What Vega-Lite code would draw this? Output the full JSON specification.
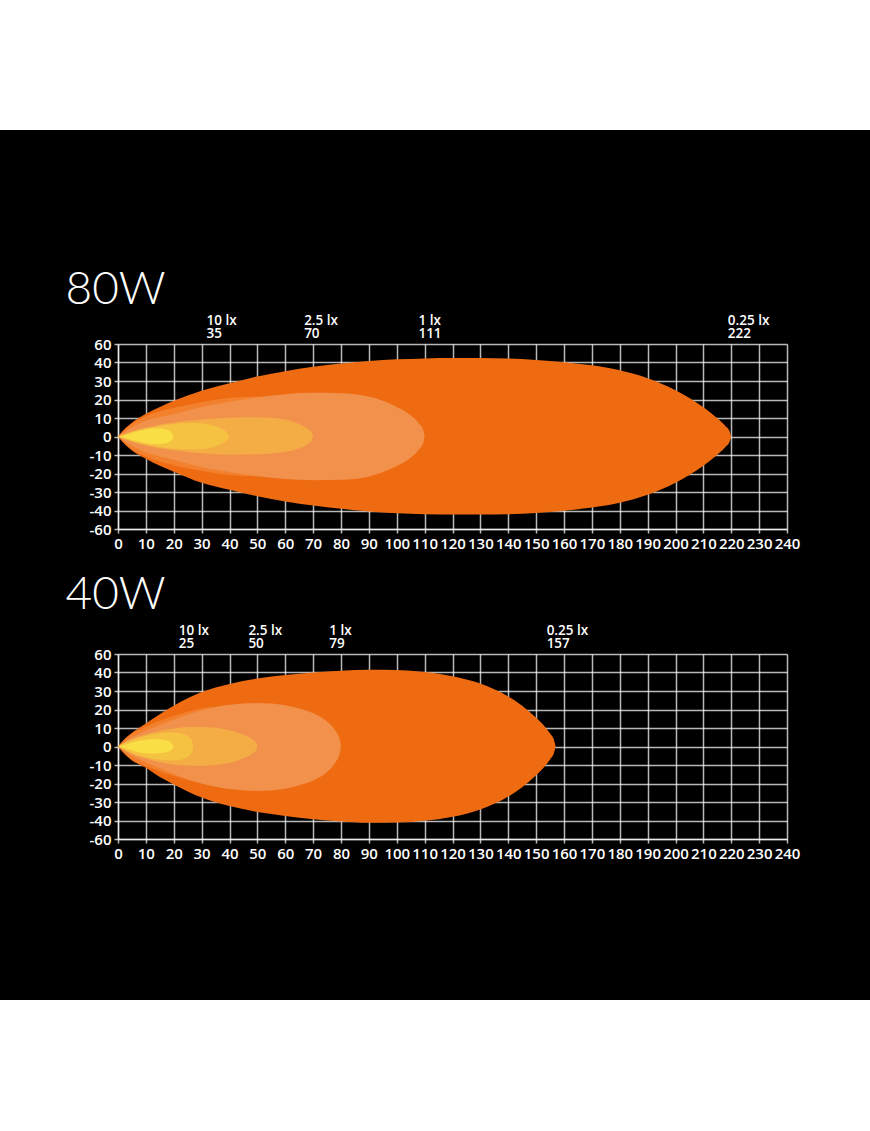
{
  "$schema": "https://vega.github.io/schema/vega-lite/v6.json",
  "background": "black",
  "padding": 0,
  "spacing": 0,
  "datasets": {
    "w80": [
      {"level": "outer", "x": 0, "hi": 0, "lo": 0},
      {"level": "outer", "x": 3, "hi": 5, "lo": -5},
      {"level": "outer", "x": 5, "hi": 7.5, "lo": -7.5},
      {"level": "outer", "x": 10, "hi": 12.3, "lo": -12},
      {"level": "outer", "x": 15, "hi": 16, "lo": -15.8},
      {"level": "outer", "x": 20, "hi": 19.3, "lo": -19},
      {"level": "outer", "x": 30, "hi": 24.7, "lo": -25},
      {"level": "outer", "x": 40, "hi": 28.8, "lo": -28.8},
      {"level": "outer", "x": 50, "hi": 32.5, "lo": -32.3},
      {"level": "outer", "x": 60, "hi": 35.3, "lo": -35.1},
      {"level": "outer", "x": 70, "hi": 37.7, "lo": -37.3},
      {"level": "outer", "x": 80, "hi": 39.4, "lo": -39.1},
      {"level": "outer", "x": 90, "hi": 40.8, "lo": -40.5},
      {"level": "outer", "x": 100, "hi": 41.7, "lo": -41.5},
      {"level": "outer", "x": 110, "hi": 42.2, "lo": -42},
      {"level": "outer", "x": 120, "hi": 42.4, "lo": -42.2},
      {"level": "outer", "x": 130, "hi": 42.4, "lo": -42.2},
      {"level": "outer", "x": 140, "hi": 42.1, "lo": -42},
      {"level": "outer", "x": 150, "hi": 41.4, "lo": -41.3},
      {"level": "outer", "x": 160, "hi": 40.2, "lo": -40.1},
      {"level": "outer", "x": 170, "hi": 38.5, "lo": -38.4},
      {"level": "outer", "x": 180, "hi": 35.8, "lo": -35.8},
      {"level": "outer", "x": 190, "hi": 31.5, "lo": -31.5},
      {"level": "outer", "x": 200, "hi": 25, "lo": -25},
      {"level": "outer", "x": 205, "hi": 20.8, "lo": -20.8},
      {"level": "outer", "x": 210, "hi": 15.8, "lo": -15.8},
      {"level": "outer", "x": 215, "hi": 9.8, "lo": -9.8},
      {"level": "outer", "x": 218, "hi": 5.5, "lo": -5.5},
      {"level": "outer", "x": 219.4, "hi": 2.8, "lo": -2.8},
      {"level": "outer", "x": 220, "hi": 0, "lo": 0},
      {"level": "medium", "x": 0, "hi": 0, "lo": 0},
      {"level": "medium", "x": 5, "hi": 7, "lo": -7},
      {"level": "medium", "x": 10, "hi": 11, "lo": -10.8},
      {"level": "medium", "x": 20, "hi": 15.5, "lo": -15.5},
      {"level": "medium", "x": 30, "hi": 18.5, "lo": -18.5},
      {"level": "medium", "x": 40, "hi": 20.8, "lo": -20.8},
      {"level": "medium", "x": 50, "hi": 21.5, "lo": -21.5},
      {"level": "medium", "x": 55, "hi": 20, "lo": -20},
      {"level": "medium", "x": 58, "hi": 10, "lo": -10},
      {"level": "medium", "x": 60, "hi": 0, "lo": 0},
      {"level": "salmon", "x": 0, "hi": 0, "lo": 0},
      {"level": "salmon", "x": 5, "hi": 5, "lo": -5},
      {"level": "salmon", "x": 10, "hi": 8.5, "lo": -8.5},
      {"level": "salmon", "x": 20, "hi": 12, "lo": -12.5},
      {"level": "salmon", "x": 30, "hi": 16, "lo": -16.5},
      {"level": "salmon", "x": 40, "hi": 18.8, "lo": -19.2},
      {"level": "salmon", "x": 50, "hi": 21.2, "lo": -21.5},
      {"level": "salmon", "x": 60, "hi": 22.9, "lo": -23},
      {"level": "salmon", "x": 70, "hi": 23.6, "lo": -23.6},
      {"level": "salmon", "x": 80, "hi": 23.4, "lo": -23.4},
      {"level": "salmon", "x": 90, "hi": 21.6, "lo": -21.6},
      {"level": "salmon", "x": 100, "hi": 16, "lo": -16},
      {"level": "salmon", "x": 105, "hi": 11.5, "lo": -11.5},
      {"level": "salmon", "x": 108, "hi": 7, "lo": -7},
      {"level": "salmon", "x": 109.5, "hi": 3.5, "lo": -3.5},
      {"level": "salmon", "x": 110, "hi": 0, "lo": 0},
      {"level": "l25", "x": 0, "hi": 0, "lo": 0},
      {"level": "l25", "x": 5, "hi": 2.8, "lo": -2.8},
      {"level": "l25", "x": 10, "hi": 4.8, "lo": -4.8},
      {"level": "l25", "x": 20, "hi": 7.6, "lo": -7.4},
      {"level": "l25", "x": 30, "hi": 9.2, "lo": -9},
      {"level": "l25", "x": 40, "hi": 10.2, "lo": -9.8},
      {"level": "l25", "x": 50, "hi": 10.4, "lo": -9.6},
      {"level": "l25", "x": 55, "hi": 10.1, "lo": -9.2},
      {"level": "l25", "x": 60, "hi": 9, "lo": -8.3},
      {"level": "l25", "x": 65, "hi": 6.8, "lo": -6.4},
      {"level": "l25", "x": 68, "hi": 4.3, "lo": -4.2},
      {"level": "l25", "x": 69.5, "hi": 2.2, "lo": -2.2},
      {"level": "l25", "x": 70, "hi": 0, "lo": 0},
      {"level": "l10", "x": 0, "hi": 0, "lo": 0},
      {"level": "l10", "x": 5, "hi": 2.5, "lo": -2.5},
      {"level": "l10", "x": 10, "hi": 4.3, "lo": -4.3},
      {"level": "l10", "x": 20, "hi": 6.8, "lo": -6.6},
      {"level": "l10", "x": 25, "hi": 7.3, "lo": -7},
      {"level": "l10", "x": 30, "hi": 7.2, "lo": -6.9},
      {"level": "l10", "x": 34, "hi": 6, "lo": -5.8},
      {"level": "l10", "x": 37, "hi": 4.2, "lo": -4.1},
      {"level": "l10", "x": 39, "hi": 2.2, "lo": -2.2},
      {"level": "l10", "x": 40, "hi": 0, "lo": 0},
      {"level": "core", "x": 0, "hi": 0, "lo": 0},
      {"level": "core", "x": 3, "hi": 1, "lo": -1},
      {"level": "core", "x": 6, "hi": 2.3, "lo": -2.3},
      {"level": "core", "x": 10, "hi": 3.8, "lo": -3.6},
      {"level": "core", "x": 14, "hi": 4.4, "lo": -4.1},
      {"level": "core", "x": 17, "hi": 3.8, "lo": -3.6},
      {"level": "core", "x": 19, "hi": 2.5, "lo": -2.4},
      {"level": "core", "x": 20, "hi": 0, "lo": 0}
    ],
    "w40": [
      {"level": "outer", "x": 0, "hi": 0, "lo": 0},
      {"level": "outer", "x": 3, "hi": 5, "lo": -5},
      {"level": "outer", "x": 5, "hi": 7.5, "lo": -7.5},
      {"level": "outer", "x": 10, "hi": 12.5, "lo": -11.5},
      {"level": "outer", "x": 15, "hi": 17.5, "lo": -16.5},
      {"level": "outer", "x": 20, "hi": 22, "lo": -20.5},
      {"level": "outer", "x": 30, "hi": 29.4, "lo": -27.6},
      {"level": "outer", "x": 40, "hi": 33.8, "lo": -32.2},
      {"level": "outer", "x": 50, "hi": 36.7, "lo": -35.4},
      {"level": "outer", "x": 60, "hi": 38.6, "lo": -37.5},
      {"level": "outer", "x": 70, "hi": 40, "lo": -39.3},
      {"level": "outer", "x": 80, "hi": 41, "lo": -40.5},
      {"level": "outer", "x": 90, "hi": 41.5, "lo": -41.2},
      {"level": "outer", "x": 100, "hi": 41.3, "lo": -41.1},
      {"level": "outer", "x": 110, "hi": 40.3, "lo": -40.2},
      {"level": "outer", "x": 120, "hi": 38, "lo": -38},
      {"level": "outer", "x": 130, "hi": 34, "lo": -34},
      {"level": "outer", "x": 140, "hi": 27, "lo": -27},
      {"level": "outer", "x": 145, "hi": 22, "lo": -22},
      {"level": "outer", "x": 150, "hi": 15.5, "lo": -15.5},
      {"level": "outer", "x": 153, "hi": 11, "lo": -11},
      {"level": "outer", "x": 155, "hi": 7, "lo": -7},
      {"level": "outer", "x": 156.4, "hi": 3.5, "lo": -3.5},
      {"level": "outer", "x": 157, "hi": 0, "lo": 0},
      {"level": "medium", "x": 0, "hi": 0, "lo": 0},
      {"level": "medium", "x": 5, "hi": 7, "lo": -7},
      {"level": "medium", "x": 10, "hi": 10.8, "lo": -10.5},
      {"level": "medium", "x": 20, "hi": 16.5, "lo": -16},
      {"level": "medium", "x": 30, "hi": 20.5, "lo": -20},
      {"level": "medium", "x": 35, "hi": 21.5, "lo": -21.5},
      {"level": "medium", "x": 40, "hi": 20, "lo": -20},
      {"level": "medium", "x": 43, "hi": 10, "lo": -10},
      {"level": "medium", "x": 45, "hi": 0, "lo": 0},
      {"level": "salmon", "x": 0, "hi": 0, "lo": 0},
      {"level": "salmon", "x": 5, "hi": 5, "lo": -5},
      {"level": "salmon", "x": 10, "hi": 8.5, "lo": -8.5},
      {"level": "salmon", "x": 20, "hi": 14.5, "lo": -14.8},
      {"level": "salmon", "x": 30, "hi": 19.5, "lo": -20},
      {"level": "salmon", "x": 40, "hi": 22.6, "lo": -23},
      {"level": "salmon", "x": 50, "hi": 23.5, "lo": -24},
      {"level": "salmon", "x": 60, "hi": 22.3, "lo": -22.8},
      {"level": "salmon", "x": 65, "hi": 20.5, "lo": -21},
      {"level": "salmon", "x": 70, "hi": 18, "lo": -18.4},
      {"level": "salmon", "x": 75, "hi": 13.5, "lo": -13.8},
      {"level": "salmon", "x": 78, "hi": 8.5, "lo": -8.5},
      {"level": "salmon", "x": 79.5, "hi": 4, "lo": -4},
      {"level": "salmon", "x": 80, "hi": 0, "lo": 0},
      {"level": "l25", "x": 0, "hi": 0, "lo": 0},
      {"level": "l25", "x": 5, "hi": 4, "lo": -4},
      {"level": "l25", "x": 10, "hi": 6.5, "lo": -6.5},
      {"level": "l25", "x": 20, "hi": 9.7, "lo": -9.7},
      {"level": "l25", "x": 25, "hi": 10.5, "lo": -10.3},
      {"level": "l25", "x": 30, "hi": 10.6, "lo": -10.4},
      {"level": "l25", "x": 35, "hi": 10.2, "lo": -10},
      {"level": "l25", "x": 40, "hi": 8.8, "lo": -8.8},
      {"level": "l25", "x": 45, "hi": 6.3, "lo": -6.3},
      {"level": "l25", "x": 48, "hi": 4, "lo": -4},
      {"level": "l25", "x": 49.5, "hi": 2, "lo": -2},
      {"level": "l25", "x": 50, "hi": 0, "lo": 0},
      {"level": "l10", "x": 0, "hi": 0, "lo": 0},
      {"level": "l10", "x": 5, "hi": 3.5, "lo": -3.5},
      {"level": "l10", "x": 10, "hi": 5.8, "lo": -5.8},
      {"level": "l10", "x": 15, "hi": 7.2, "lo": -7.2},
      {"level": "l10", "x": 20, "hi": 7.6, "lo": -7.6},
      {"level": "l10", "x": 23, "hi": 7, "lo": -7},
      {"level": "l10", "x": 25, "hi": 5.6, "lo": -5.6},
      {"level": "l10", "x": 26.5, "hi": 3.2, "lo": -3.2},
      {"level": "l10", "x": 27, "hi": 0, "lo": 0},
      {"level": "core", "x": 0, "hi": 0, "lo": 0},
      {"level": "core", "x": 3, "hi": 1.2, "lo": -1.2},
      {"level": "core", "x": 6, "hi": 2.6, "lo": -2.6},
      {"level": "core", "x": 10, "hi": 3.6, "lo": -3.6},
      {"level": "core", "x": 14, "hi": 4, "lo": -3.8},
      {"level": "core", "x": 17, "hi": 3.4, "lo": -3.3},
      {"level": "core", "x": 19, "hi": 2.2, "lo": -2.2},
      {"level": "core", "x": 20, "hi": 0, "lo": 0}
    ],
    "lab80": [
      {"label": ["10 lx", "35"], "dist": 35},
      {"label": ["2.5 lx", "70"], "dist": 70},
      {"label": ["1 lx", "111"], "dist": 111},
      {"label": ["0.25 lx", "222"], "dist": 222}
    ],
    "lab40": [
      {"label": ["10 lx", "25"], "dist": 25},
      {"label": ["2.5 lx", "50"], "dist": 50},
      {"label": ["1 lx", "79"], "dist": 79},
      {"label": ["0.25 lx", "157"], "dist": 157}
    ],
    "page": [{"part": "page"}]
  },
  "vconcat": [
    {
      "width": 752, "height": 130,
      "data": {"name": "page"},
      "mark": {"type": "rect", "color": "white"},
      "encoding": {
        "x": {"datum": -118, "type": "quantitative", "scale": {"domain": [0, 752], "nice": false, "zero": false}, "axis": null},
        "x2": {"datum": 752}
      }
    },
    {
      "width": 1, "height": 136,
      "data": {"values": []},
      "mark": "point"
    },
    {
      "width": 669, "height": 185,
      "layer": [
        {"data": {"name": "w80"}, "transform": [{"filter": "datum.level == 'outer'"}], "mark": {"type": "area", "color": "#EE6B12", "interpolate": "monotone"}, "encoding": {"x": {"field": "x", "type": "quantitative", "scale": {"domain": [0, 240], "nice": false}, "axis": {"values": [0,10,20,30,40,50,60,70,80,90,100,110,120,130,140,150,160,170,180,190,200,210,220,230,240], "tickCount": 40, "labelFlush": false, "labelOverlap": false, "labelBound": false, "title": ".", "titleX": -118, "titleY": 6, "titleAlign": "left", "titleBaseline": "top", "titleFontSize": 6, "titleColor": "black"}}, "y": {"field": "hi", "type": "quantitative", "scale": {"domain": [-50, 50], "nice": false}, "axis": {"values": [-50,-40,-30,-20,-10,0,10,20,30,40,50], "tickCount": 40, "labelOverlap": false, "labelExpr": "datum.value == 50 ? '60' : datum.value == -50 ? '-60' : (datum.value < 0 ? '-' + abs(datum.value) : '' + datum.value)", "title": "80W", "titleAngle": 0, "titleX": -53, "titleY": -41, "titleAlign": "left", "titleBaseline": "alphabetic", "titleFont": "Lato", "titleFontWeight": 300, "titleFontSize": 46, "titleColor": "white"}}, "y2": {"field": "lo"}}},
        {"data": {"name": "w80"}, "transform": [{"filter": "datum.level == 'medium'"}], "mark": {"type": "area", "color": "#F2802C", "interpolate": "monotone"}, "encoding": {"x": {"field": "x", "type": "quantitative"}, "y": {"field": "hi", "type": "quantitative"}, "y2": {"field": "lo"}}},
        {"data": {"name": "w80"}, "transform": [{"filter": "datum.level == 'salmon'"}], "mark": {"type": "area", "color": "#F1914C", "interpolate": "monotone"}, "encoding": {"x": {"field": "x", "type": "quantitative"}, "y": {"field": "hi", "type": "quantitative"}, "y2": {"field": "lo"}}},
        {"data": {"name": "w80"}, "transform": [{"filter": "datum.level == 'l25'"}], "mark": {"type": "area", "color": "#F4AD45", "interpolate": "monotone"}, "encoding": {"x": {"field": "x", "type": "quantitative"}, "y": {"field": "hi", "type": "quantitative"}, "y2": {"field": "lo"}}},
        {"data": {"name": "w80"}, "transform": [{"filter": "datum.level == 'l10'"}], "mark": {"type": "area", "color": "#F6C242", "interpolate": "monotone"}, "encoding": {"x": {"field": "x", "type": "quantitative"}, "y": {"field": "hi", "type": "quantitative"}, "y2": {"field": "lo"}}},
        {"data": {"name": "w80"}, "transform": [{"filter": "datum.level == 'core'"}], "mark": {"type": "area", "color": "#F9DE46", "interpolate": "monotone"}, "encoding": {"x": {"field": "x", "type": "quantitative"}, "y": {"field": "hi", "type": "quantitative"}, "y2": {"field": "lo"}}},
        {"data": {"name": "lab80"}, "mark": {"type": "text", "align": "left", "baseline": "alphabetic", "dx": -9, "dy": -19.5, "lineHeight": 13.5, "color": "white", "font": "Open Sans", "fontWeight": 600, "fontSize": 13.5}, "encoding": {"x": {"field": "dist", "type": "quantitative"}, "y": {"datum": 50}, "text": {"field": "label"}}}
      ]
    },
    {
      "width": 1, "height": 20,
      "data": {"values": []},
      "mark": "point"
    },
    {
      "width": 669, "height": 185,
      "layer": [
        {"data": {"name": "w40"}, "transform": [{"filter": "datum.level == 'outer'"}], "mark": {"type": "area", "color": "#EE6B12", "interpolate": "monotone"}, "encoding": {"x": {"field": "x", "type": "quantitative", "scale": {"domain": [0, 240], "nice": false}, "axis": {"values": [0,10,20,30,40,50,60,70,80,90,100,110,120,130,140,150,160,170,180,190,200,210,220,230,240], "tickCount": 40, "labelFlush": false, "labelOverlap": false, "labelBound": false, "title": ".", "titleX": -118, "titleY": 6, "titleAlign": "left", "titleBaseline": "top", "titleFontSize": 6, "titleColor": "black"}}, "y": {"field": "hi", "type": "quantitative", "scale": {"domain": [-50, 50], "nice": false}, "axis": {"values": [-50,-40,-30,-20,-10,0,10,20,30,40,50], "tickCount": 40, "labelOverlap": false, "labelExpr": "datum.value == 50 ? '60' : datum.value == -50 ? '-60' : (datum.value < 0 ? '-' + abs(datum.value) : '' + datum.value)", "title": "40W", "titleAngle": 0, "titleX": -53, "titleY": -46, "titleAlign": "left", "titleBaseline": "alphabetic", "titleFont": "Lato", "titleFontWeight": 300, "titleFontSize": 46, "titleColor": "white"}}, "y2": {"field": "lo"}}},
        {"data": {"name": "w40"}, "transform": [{"filter": "datum.level == 'medium'"}], "mark": {"type": "area", "color": "#F2802C", "interpolate": "monotone"}, "encoding": {"x": {"field": "x", "type": "quantitative"}, "y": {"field": "hi", "type": "quantitative"}, "y2": {"field": "lo"}}},
        {"data": {"name": "w40"}, "transform": [{"filter": "datum.level == 'salmon'"}], "mark": {"type": "area", "color": "#F1914C", "interpolate": "monotone"}, "encoding": {"x": {"field": "x", "type": "quantitative"}, "y": {"field": "hi", "type": "quantitative"}, "y2": {"field": "lo"}}},
        {"data": {"name": "w40"}, "transform": [{"filter": "datum.level == 'l25'"}], "mark": {"type": "area", "color": "#F4AD45", "interpolate": "monotone"}, "encoding": {"x": {"field": "x", "type": "quantitative"}, "y": {"field": "hi", "type": "quantitative"}, "y2": {"field": "lo"}}},
        {"data": {"name": "w40"}, "transform": [{"filter": "datum.level == 'l10'"}], "mark": {"type": "area", "color": "#F6C242", "interpolate": "monotone"}, "encoding": {"x": {"field": "x", "type": "quantitative"}, "y": {"field": "hi", "type": "quantitative"}, "y2": {"field": "lo"}}},
        {"data": {"name": "w40"}, "transform": [{"filter": "datum.level == 'core'"}], "mark": {"type": "area", "color": "#F9DE46", "interpolate": "monotone"}, "encoding": {"x": {"field": "x", "type": "quantitative"}, "y": {"field": "hi", "type": "quantitative"}, "y2": {"field": "lo"}}},
        {"data": {"name": "lab40"}, "mark": {"type": "text", "align": "left", "baseline": "alphabetic", "dx": -9, "dy": -19.5, "lineHeight": 13.5, "color": "white", "font": "Open Sans", "fontWeight": 600, "fontSize": 13.5}, "encoding": {"x": {"field": "dist", "type": "quantitative"}, "y": {"datum": 50}, "text": {"field": "label"}}}
      ]
    },
    {
      "width": 1, "height": 139,
      "data": {"values": []},
      "mark": "point"
    },
    {
      "width": 752, "height": 131,
      "data": {"name": "page"},
      "mark": {"type": "rect", "color": "white"},
      "encoding": {
        "x": {"datum": -118, "type": "quantitative", "scale": {"domain": [0, 752], "nice": false, "zero": false}, "axis": null},
        "x2": {"datum": 752}
      }
    }
  ],
  "config": {
    "view": {"stroke": null},
    "axis": {
      "zindex": 1,
      "grid": true,
      "gridColor": "#ffffff",
      "gridOpacity": 0.72,
      "gridWidth": 1.5,
      "domain": true,
      "domainColor": "#ffffff",
      "domainOpacity": 0.72,
      "domainWidth": 1.5,
      "ticks": true,
      "tickColor": "#ffffff",
      "tickOpacity": 0.72,
      "tickWidth": 1.5,
      "tickSize": 4,
      "labelPadding": 3,
      "labelColor": "white",
      "labelFont": "Open Sans",
      "labelFontWeight": 600,
      "labelFontSize": 15
    }
  }
}
